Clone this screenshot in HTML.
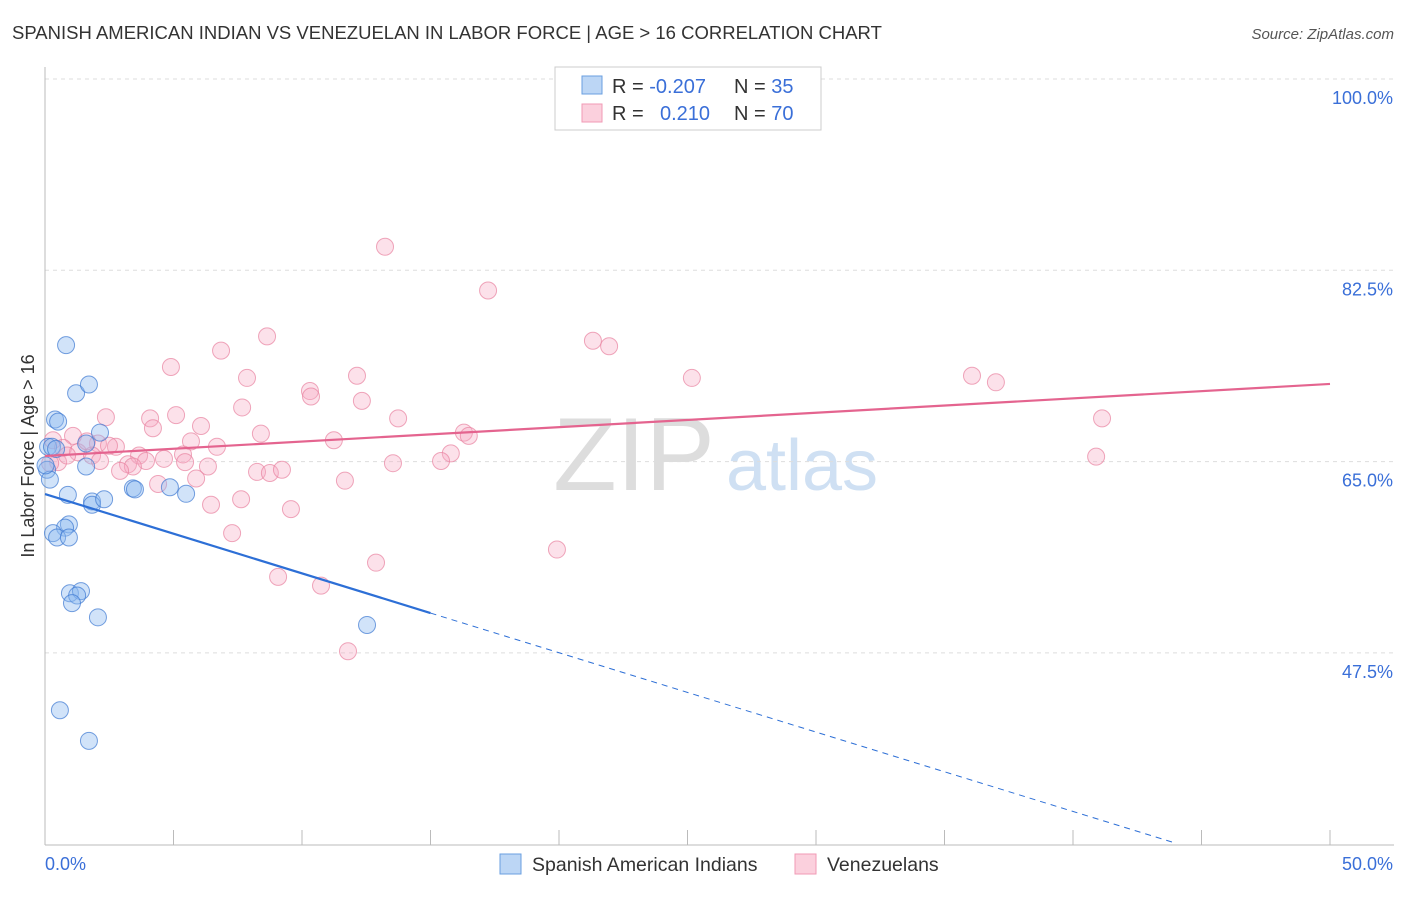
<!DOCTYPE html>
<html><head><meta charset="utf-8"><style>
body{margin:0;background:#fff;font-family:"Liberation Sans",sans-serif;}
svg text{font-family:"Liberation Sans",sans-serif;}
</style></head><body>
<svg id="c" width="1406" height="892">
<text x="12" y="39" font-size="18.5" fill="#333">SPANISH AMERICAN INDIAN VS VENEZUELAN IN LABOR FORCE | AGE &gt; 16 CORRELATION CHART</text>
<text x="1394" y="39" font-size="15" fill="#555" font-style="italic" text-anchor="end">Source: ZipAtlas.com</text>
<text x="634" y="490" font-size="104" fill="#ddd" font-family="Liberation Serif" text-anchor="middle">ZIP</text>
<text x="802" y="490" font-size="72" fill="#cfe0f3" text-anchor="middle">atlas</text>
<g id="grid"></g><g id="axes"></g><g id="marks"></g>
<text transform="translate(34,456) rotate(-90)" font-size="18" fill="#333" text-anchor="middle">In Labor Force | Age &gt; 16</text>
<g>
<rect x="555" y="67" width="266" height="63" fill="#fff" stroke="#ccc"/>
<rect x="582" y="76" width="20" height="18" fill="#bcd6f5" stroke="#6a9fe0"/>
<rect x="582" y="104" width="20" height="18" fill="#fbd0dd" stroke="#f09ab5"/>
<text x="612" y="93" font-size="20" fill="#333">R = <tspan fill="#3a6fd8">-0.207</tspan></text>
<text x="734" y="93" font-size="20" fill="#333">N = <tspan fill="#3a6fd8">35</tspan></text>
<text x="612" y="120" font-size="20" fill="#333">R = <tspan fill="#3a6fd8" x="660">0.210</tspan></text>
<text x="734" y="120" font-size="20" fill="#333">N = <tspan fill="#3a6fd8">70</tspan></text>
</g>
<g>
<rect x="500" y="854" width="21" height="20" fill="#bcd6f5" stroke="#6a9fe0"/>
<text x="532" y="871" font-size="19.5" fill="#333">Spanish American Indians</text>
<rect x="795" y="854" width="21" height="20" fill="#fbd0dd" stroke="#f09ab5"/>
<text x="827" y="871" font-size="19.5" fill="#333">Venezuelans</text>
</g>
</svg>
<script>
const yTicks=[100,82.5,65,47.5];
const xTickLabels=["0.0%","50.0%"];
const blueX=[0.82,1.21,1.71,0.39,0.51,0.12,0.27,0.43,1.60,2.14,1.60,0.08,0.19,0.89,1.83,1.83,2.30,3.42,3.50,4.86,5.49,0.93,0.78,0.31,0.47,0.93,0.97,1.40,1.25,1.05,2.06,12.53,0.58,1.71,0.02];
const blueY=[77.3,72.9,73.7,70.5,70.3,68.0,68.0,67.8,68.3,69.3,66.2,65.9,65.0,63.6,63.0,62.7,63.2,64.2,64.1,64.3,63.7,60.9,60.6,60.1,59.7,59.7,54.6,54.8,54.4,53.7,52.4,51.7,43.9,41.1,66.3];
const pinkX=[13.23,17.24,8.64,21.32,21.95,4.90,6.85,7.86,12.14,25.17,36.07,37.00,10.31,10.35,12.33,7.67,13.74,4.09,5.10,2.37,4.20,6.07,41.13,8.40,11.24,5.68,6.69,16.30,16.49,15.79,15.41,13.54,40.90,0.31,1.09,0.70,1.28,2.06,2.76,1.83,2.14,0.51,3.66,3.93,4.63,5.37,5.45,3.23,3.42,2.92,6.34,5.88,8.25,8.75,9.22,4.40,7.63,6.46,9.57,11.67,7.28,19.92,12.88,9.07,10.74,11.79,2.49,0.86,1.63,0.2];
const pinkY=[86.3,82.3,78.1,77.7,77.2,75.3,76.8,74.3,74.5,74.3,74.5,73.9,73.1,72.6,72.2,71.6,70.6,70.6,70.9,70.7,69.7,69.9,70.6,69.2,68.6,68.5,68.0,69.3,69.0,67.4,66.7,66.5,67.1,68.6,69.0,67.9,67.5,68.3,68.0,67.2,66.7,66.6,67.2,66.7,66.9,67.3,66.6,66.4,66.2,65.8,66.2,65.1,65.7,65.6,65.9,64.6,63.2,62.7,62.3,64.9,60.1,58.6,57.4,56.1,55.3,49.3,68.1,67.2,68.5,66.5];
const blueTrend=[63.68,-0.726];
const pinkTrend=[67.16,0.1318];
const X=v=>45+v*25.7, Y=v=>97+(100-v)*10.931;
const NS='http://www.w3.org/2000/svg';
function mk(p,t,a){const e=document.createElementNS(NS,t);for(const k in a)e.setAttribute(k,a[k]);p.appendChild(e);return e;}
const grid=document.getElementById('grid'),axes=document.getElementById('axes'),marks=document.getElementById('marks');
yTicks.forEach(v=>{
 const l=mk(grid,'line',{x1:45,x2:1394,y1:Y(v)-18,y2:Y(v)-18,stroke:'#ddd','stroke-dasharray':'4,4'});
 
 
 const t=mk(grid,'text',{x:1393,y:Y(v)+7,'font-size':18,fill:'#3a6fd8','text-anchor':'end'});t.textContent=v.toFixed(1)+'%';
 
 
});
mk(axes,'line',{x1:45,x2:45,y1:67,y2:845,stroke:'#bbb'});
mk(axes,'line',{x1:45,x2:1394,y1:845,y2:845,stroke:'#bbb'});
for(let k=0;k<=10;k++){mk(axes,'line',{x1:X(k*5),x2:X(k*5),y1:830,y2:845,stroke:'#bbb'});}
const t0=mk(axes,'text',{x:45,y:870,'font-size':18,fill:'#3a6fd8'});t0.textContent=xTickLabels[0];


const t1=mk(axes,'text',{x:1393,y:870,'font-size':18,fill:'#3a6fd8','text-anchor':'end'});t1.textContent=xTickLabels[1];


pinkX.forEach((x,i)=>{const c=mk(marks,'circle',{cx:X(x),cy:Y(pinkY[i]),r:8.5,fill:'rgba(246,170,195,0.35)',stroke:'rgba(232,130,160,0.7)'});
 
 });
blueX.forEach((x,i)=>{const c=mk(marks,'circle',{cx:X(x),cy:Y(blueY[i]),r:8.5,fill:'rgba(140,185,240,0.4)',stroke:'rgba(60,120,210,0.7)'});
 
 });
const bt=x=>blueTrend[0]+blueTrend[1]*x, pt=x=>pinkTrend[0]+pinkTrend[1]*x;
const b1=mk(marks,'line',{x1:X(0),y1:Y(bt(0)),x2:X(15),y2:Y(bt(15)),stroke:'#2d6fd6','stroke-width':2.2});


const b2=mk(marks,'line',{x1:X(15),y1:Y(bt(15)),x2:X(43.9),y2:Y(bt(43.9)),stroke:'#2d6fd6','stroke-width':1,'stroke-dasharray':'6,5'});


const p1=mk(marks,'line',{x1:X(0),y1:Y(pt(0)),x2:X(50),y2:Y(pt(50)),stroke:'#e4648f','stroke-width':2.2});


</script>
</body></html>
